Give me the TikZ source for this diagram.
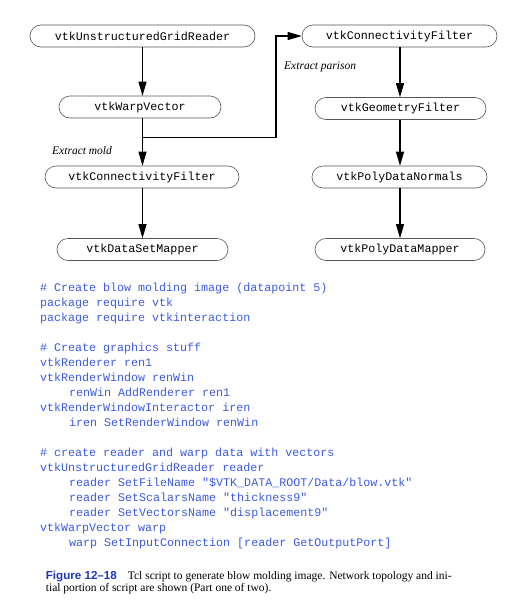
\documentclass[tikz,border=0pt]{standalone}
\usepackage{fontspec}
\setmainfont{Liberation Serif}
\setsansfont{Liberation Sans}
\setmonofont{Liberation Mono}
\usetikzlibrary{arrows.meta,shapes.misc}
\definecolor{codeblue}{RGB}{60,90,225}
\definecolor{capblue}{RGB}{30,55,185}
\definecolor{boxgray}{RGB}{85,85,85}
\tikzset{
  stage/.style={draw=boxgray, line width=0.6pt, rounded rectangle, minimum height=22pt, inner sep=0pt,
     font=\fontsize{11.67}{14}\ttfamily, text=black},
  arr/.style={line width=1.1pt, -{Triangle[length=14pt,width=8pt]}},
  lbl/.style={font=\fontsize{11.5}{13}\itshape, anchor=west, inner sep=0pt},
  code/.style={font=\fontsize{11.67}{15}\ttfamily, text=codeblue, anchor=base west, inner sep=0pt},
  captxt/.style={font=\fontsize{11.5}{13}\rmfamily, anchor=base west, inner sep=0pt},
}
\newcommand{\ind}{\hspace*{29pt}}
\begin{document}
\begin{tikzpicture}[x=1pt,y=-1pt]
\useasboundingbox (0,0) rectangle (526,608);
% nodes
\node[stage, minimum width=225pt] (ugr) at (142.5,36) {vtkUnstructuredGridReader};
\node[stage, minimum width=162pt] (warp) at (140,107) {vtkWarpVector};
\node[stage, minimum width=195pt] (cfR) at (399.5,36) {vtkConnectivityFilter};
\node[stage, minimum width=171pt] (geo) at (400.5,108.5) {vtkGeometryFilter};
\node[stage, minimum width=194pt] (cfL) at (142,177) {vtkConnectivityFilter};
\node[stage, minimum width=171pt] (dsm) at (142.5,249.5) {vtkDataSetMapper};
\node[stage, minimum width=175pt] (pdn) at (399.5,177) {vtkPolyDataNormals};
\node[stage, minimum width=170pt] (pdm) at (400,249.5) {vtkPolyDataMapper};
% connectors
\coordinate (bend) at (276,137.5);
\draw[arr] (ugr.south -| 142.5,0) -- (warp.north -| 142.5,0);
\draw[arr] (warp.south -| 142.5,0) -- (cfL.north -| 142.5,0);
\draw[arr] (warp.south -| 142.5,0) |- (bend) |- (cfR.west);
\draw[arr] (cfL.south -| 142.5,0) -- (dsm.north -| 142.5,0);
\draw[arr] (cfR.south -| 400,0) -- (geo.north -| 400,0);
\draw[arr] (geo.south -| 400,0) -- (pdn.north -| 400,0);
\draw[arr] (pdn.south -| 400,0) -- (pdm.north -| 400,0);
% labels
\node[lbl] (lp) at (284,67) {Extract parison};
\node[lbl] (lm) at (52,151) {Extract mold};
% code
\node[code] (c1) at (40,291) {\# Create blow molding image (datapoint 5)};
\node[code] (c2) at (40,306) {package require vtk};
\node[code] (c3) at (40,321) {package require vtkinteraction};
\node[code] (c4) at (40,351) {\# Create graphics stuff};
\node[code] (c5) at (40,366) {vtkRenderer ren1};
\node[code] (c6) at (40,381) {vtkRenderWindow renWin};
\node[code] (c7) at (40,396) {\ind renWin AddRenderer ren1};
\node[code] (c8) at (40,411) {vtkRenderWindowInteractor iren};
\node[code] (c9) at (40,426) {\ind iren SetRenderWindow renWin};
\node[code] (c10) at (40,456) {\# create reader and warp data with vectors};
\node[code] (c11) at (40,471) {vtkUnstructuredGridReader reader};
\node[code] (c12) at (40,486) {\ind reader SetFileName "\$VTK\_DATA\_ROOT/Data/blow.vtk"};
\node[code] (c13) at (40,501) {\ind reader SetScalarsName "thickness9"};
\node[code] (c14) at (40,516) {\ind reader SetVectorsName "displacement9"};
\node[code] (c15) at (40,531) {vtkWarpVector warp};
\node[code] (c16) at (40,546) {\ind warp SetInputConnection [reader GetOutputPort]};
% caption
\node[anchor=base west, inner sep=0pt, font=\fontsize{11.6}{13}\sffamily\bfseries, text=capblue] (fig) at (45.7,579) {Figure 12–18};
\node[captxt] (cap1) at (127.7,579) {Tcl script to generate blow molding image. Network topology and ini-};
\node[captxt] (cap2) at (45.7,591.5) {tial portion of script are shown (Part one of two).};
\end{tikzpicture}
\end{document}
